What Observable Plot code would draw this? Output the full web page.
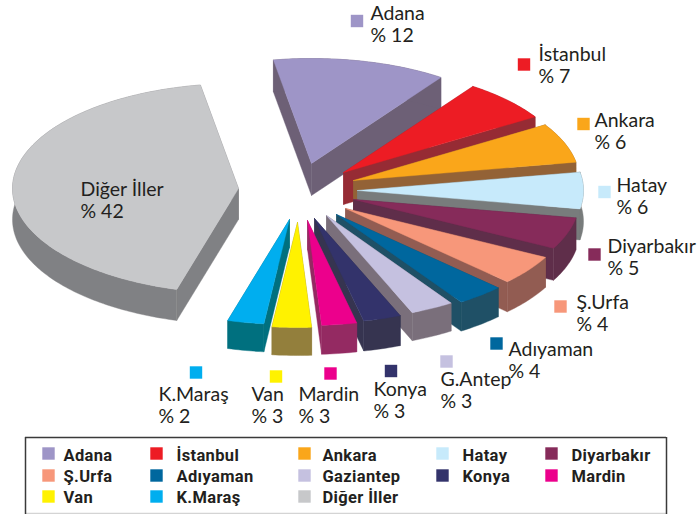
<!DOCTYPE html>
<html>
<head>
<meta charset="utf-8">
<script src="https://cdn.jsdelivr.net/npm/d3@7"></script>
<script src="https://cdn.jsdelivr.net/npm/@observablehq/plot@0.6"></script>
<style>html,body{margin:0;padding:0;background:#fff}svg{display:block}
.legend-text text{letter-spacing:0.35px}</style>
</head>
<body>
<div id="chart"></div>
<script>
// Data
const sliceLabels = ["Adana","İstanbul","Ankara","Hatay","Diyarbakır","Ş.Urfa","Adıyaman","G.Antep","Konya","Mardin","Van","K.Maraş","Diğer İller"];
const legendNames = ["Adana","İstanbul","Ankara","Hatay","Diyarbakır","Ş.Urfa","Adıyaman","Gaziantep","Konya","Mardin","Van","K.Maraş","Diğer İller"];
const printedPercent = [12,7,6,6,5,4,4,3,3,3,3,2,42];
// slice sizes as drawn in the picture, in percent of the full circle
const drawnShare = [12.4,6.4,6.1,5.6,4.9,4.6,3.4,3.1,2.7,2.5,2.8,2.6,42.9];

// Styles
const topColors = ["#9e95c7","#ed1c24","#faa61a","#c7eafb","#862b5a","#f7977a","#00679e","#c5c1e0","#33336b","#ec008c","#fff200","#00aeef","#c7c8ca"];
const wallColors = ["#6d6076","#962b34","#936236","#787c7c","#5f2e4a","#925c52","#1f5066","#7a6f7b","#363450","#942a62","#937f3c","#00707f","#808184"];

// Pie layout: start angle, radii, explosion of each slice and its thickness
const startDeg = 350.3, radiusX = 226, radiusY = 105;
const tipX = [311,343,353,357,353,345,336,326,314,307,297,289,238];
const tipY = [163,172,180,190,199,208,214,215,218,220,222,219,188];
const depth = [32,32,32,31,32,30,29,28,30,29,28,28,31];

// Label layout (left edge, baseline of last line) and markers
const labelX = [370,538,594,616,607,576,508,440,373,298,251,158,80];
const labelY = [41,82,148,213,274,330,377,407,417,422,422,422,217];
const markX = [356.5,523.5,583,604,594,560,496,446,390.5,330,275.5,195.5];
const markY = [20.5,64,123.5,191.5,254,306,343,361,370.5,373,376,372];
// Legend layout
const legendSwatchX = [48,156,304,442,551];
const legendTextX = [63,176,322,462,571];
const legendSwatchY = [453,475,496];
const legendTextY = [460,481,502];

// Build polygons from the shares
const polygons = [];
let cum = startDeg;
drawnShare.forEach((share, i) => {
  const a0 = cum, a1 = cum + share * 3.6;
  cum = a1;
  const n = Math.max(4, Math.ceil(a1 - a0));
  const arc = d3.range(n + 1).map(k => {
    const t = (a0 + (a1 - a0) * k / n) * Math.PI / 180;
    return [tipX[i] + radiusX * Math.sin(t), tipY[i] - radiusY * Math.cos(t)];
  });
  const tip = [tipX[i], tipY[i]];
  const down = ([x, y]) => [x, y + depth[i]];
  const add = (key, fill, pts) => {
    [...pts, pts[0]].forEach(([x, y]) => polygons.push({key: `${i}-${key}`, x, y, fill}));
  };
  const w = wallColors[i];
  add("w1", w, [tip, arc[0], down(arc[0]), down(tip)]);
  add("w2", w, [tip, arc[n], down(arc[n]), down(tip)]);
  add("w3", w, [...arc, ...arc.map(down).reverse()]);
  add("top", topColors[i], [tip, ...arc]);
});

const labels = sliceLabels.map((name, i) => ({
  text: `${name}\n% ${printedPercent[i]}`, x: labelX[i], y: labelY[i]
}));
const marks = markX.map((x, i) => ({x, y: markY[i], fill: topColors[i]}));
const legend = legendNames.map((name, i) => {
  const col = i % 5, row = Math.floor(i / 5);
  return {name, fill: topColors[i], sx: legendSwatchX[col], tx: legendTextX[col], sy: legendSwatchY[row], ty: legendTextY[row]};
});

const chart = Plot.plot({
  width: 699, height: 514,
  margin: 0,
  x: {domain: [0, 699], range: [0, 699], axis: null},
  y: {domain: [0, 514], range: [0, 514], axis: null},
  color: {type: "identity"},
  style: {background: "#fff"},
  marks: [
    Plot.line(polygons, {x: "x", y: "y", z: "key", fill: "fill", stroke: "fill", strokeWidth: 0.4, curve: "linear"}),
    Plot.dot(marks, {x: "x", y: "y", fill: "fill", symbol: "square", r: 7}),
    Plot.text(labels, {x: "x", y: "y", text: "text", textAnchor: "start", lineAnchor: "bottom", lineHeight: 1.1, fontFamily: "Lato", fontSize: 19.5, fill: "#231f20"}),
    // legend frame
    Plot.ruleY([513], {x1: 25, x2: 666, stroke: "#d4d4d4", strokeWidth: 1.5}),
    Plot.ruleY([437], {x1: 25, x2: 666, stroke: "#3a3a3a", strokeWidth: 1.5}),
    Plot.ruleX([25, 666], {y1: 437, y2: 514, stroke: "#3a3a3a", strokeWidth: 1.5}),
    Plot.dot(legend, {x: "sx", y: "sy", fill: "fill", symbol: "square", r: 7}),
    Plot.text(legend, {x: "tx", y: "ty", text: "name", textAnchor: "start", lineAnchor: "bottom", className: "legend-text", fontFamily: "Roboto", fontWeight: 700, fontSize: 16.5, fill: "#231f20"})
  ]
});
document.getElementById("chart").append(chart);
</script>
</body>
</html>
